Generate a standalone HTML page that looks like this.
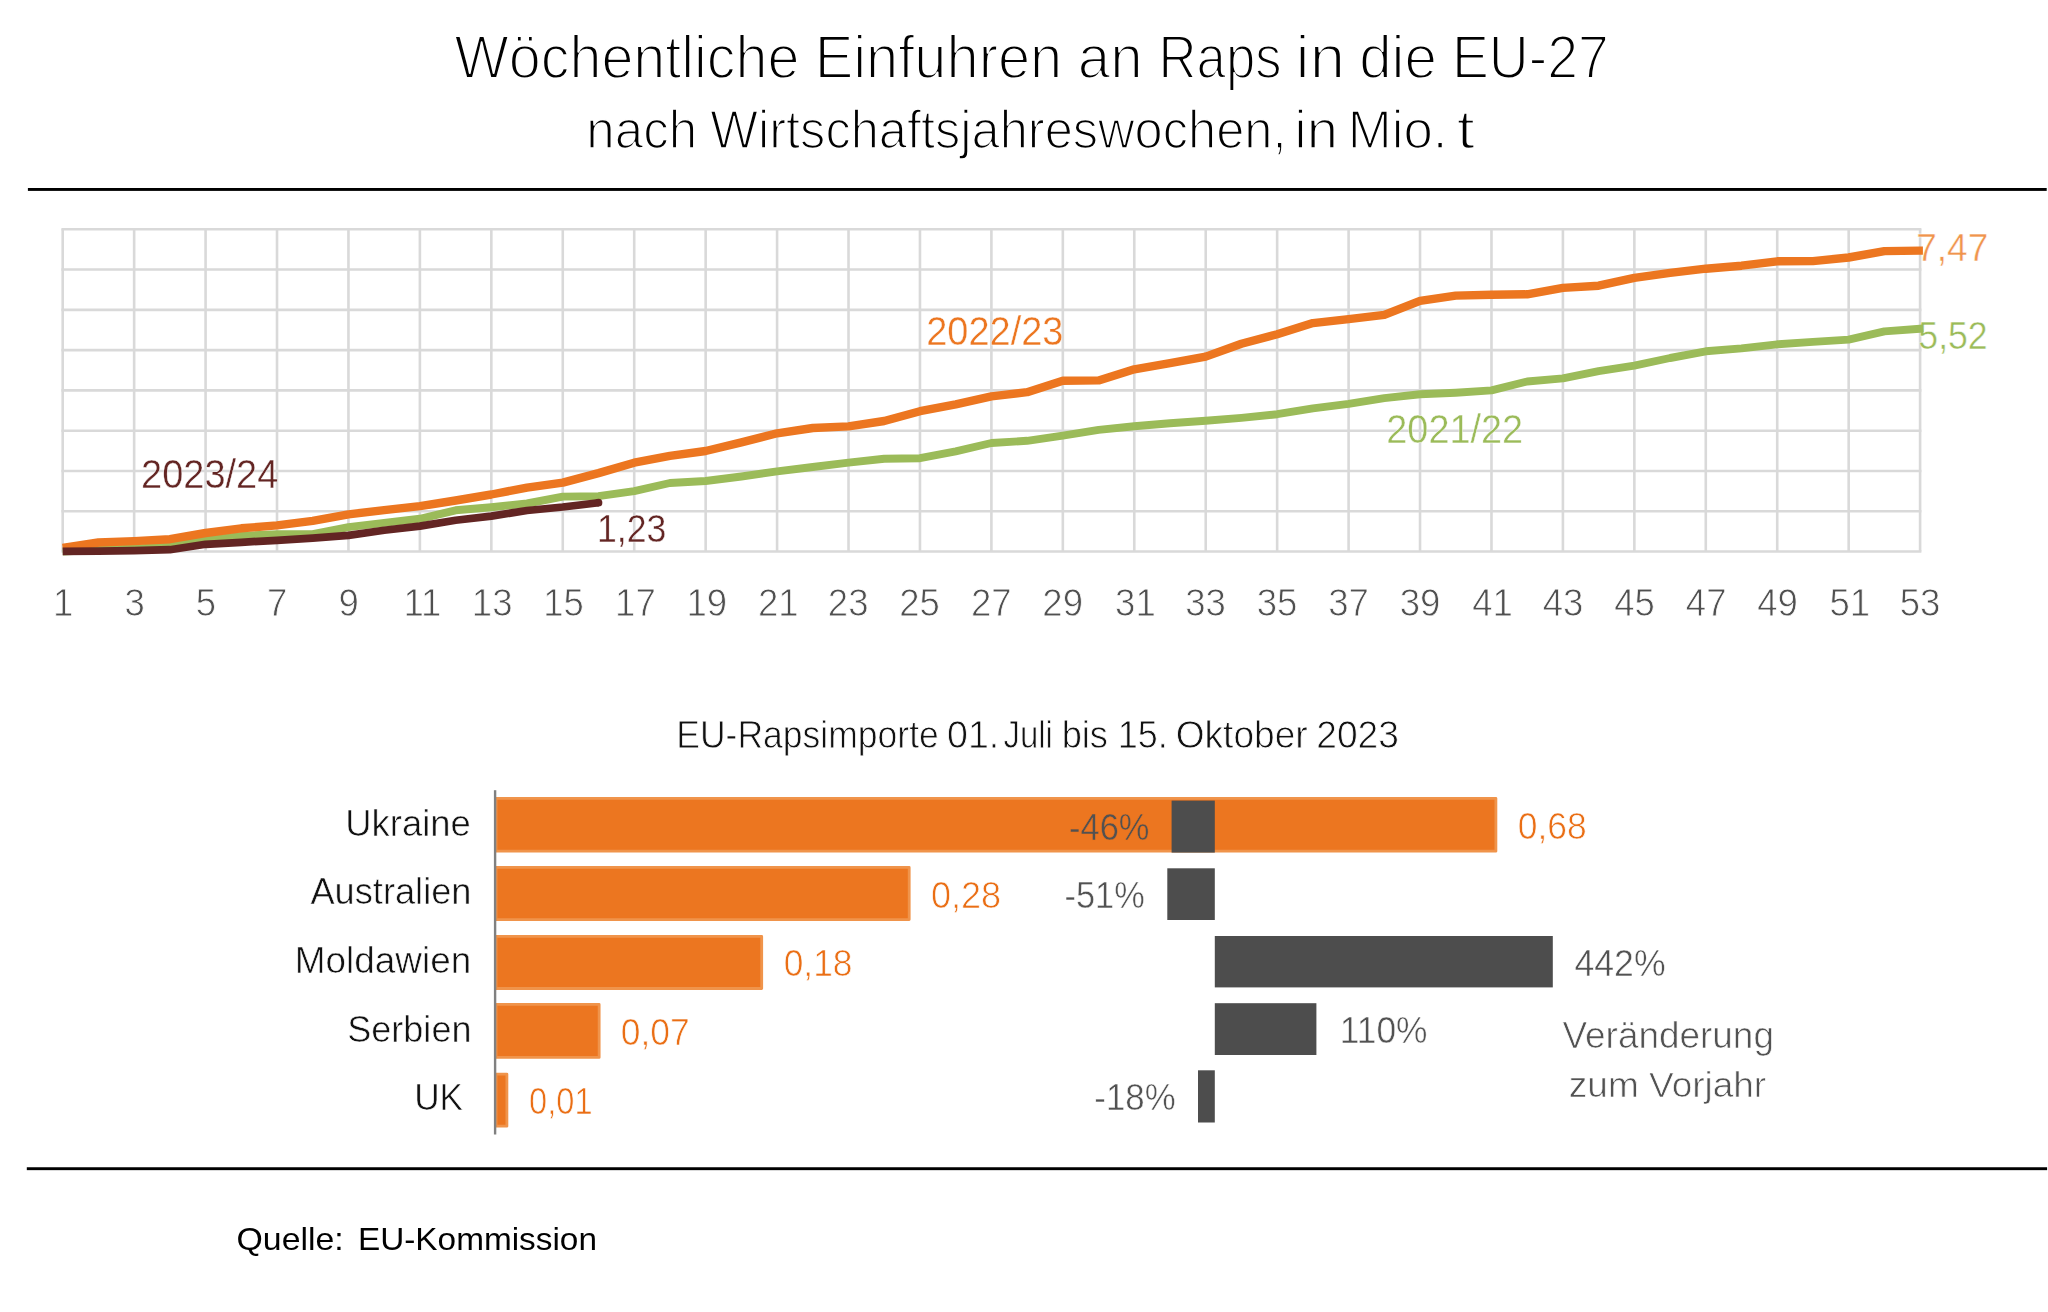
<!DOCTYPE html>
<html lang="de"><head><meta charset="utf-8"><title>Wöchentliche Einfuhren an Raps in die EU-27</title>
<style>html,body{margin:0;padding:0;background:#fff;}body{width:2048px;height:1312px;overflow:hidden;font-family:"Liberation Sans",sans-serif;}svg{display:block;}text{font-family:"Liberation Sans",sans-serif;}</style>
</head><body>
<svg width="2048" height="1312" viewBox="0 0 2048 1312">
<rect width="2048" height="1312" fill="#ffffff"/>
<rect x="27.9" y="188.0" width="2018.8" height="2.9" fill="#000"/>
<rect x="26.8" y="1167.25" width="2020.3" height="2.9" fill="#000"/>
<g stroke="#d9d9d9" stroke-width="2.6" fill="none">
<line x1="62.70" y1="229.3" x2="62.70" y2="551.5"/>
<line x1="134.14" y1="229.3" x2="134.14" y2="551.5"/>
<line x1="205.58" y1="229.3" x2="205.58" y2="551.5"/>
<line x1="277.02" y1="229.3" x2="277.02" y2="551.5"/>
<line x1="348.45" y1="229.3" x2="348.45" y2="551.5"/>
<line x1="419.89" y1="229.3" x2="419.89" y2="551.5"/>
<line x1="491.33" y1="229.3" x2="491.33" y2="551.5"/>
<line x1="562.77" y1="229.3" x2="562.77" y2="551.5"/>
<line x1="634.21" y1="229.3" x2="634.21" y2="551.5"/>
<line x1="705.65" y1="229.3" x2="705.65" y2="551.5"/>
<line x1="777.08" y1="229.3" x2="777.08" y2="551.5"/>
<line x1="848.52" y1="229.3" x2="848.52" y2="551.5"/>
<line x1="919.96" y1="229.3" x2="919.96" y2="551.5"/>
<line x1="991.40" y1="229.3" x2="991.40" y2="551.5"/>
<line x1="1062.84" y1="229.3" x2="1062.84" y2="551.5"/>
<line x1="1134.28" y1="229.3" x2="1134.28" y2="551.5"/>
<line x1="1205.72" y1="229.3" x2="1205.72" y2="551.5"/>
<line x1="1277.15" y1="229.3" x2="1277.15" y2="551.5"/>
<line x1="1348.59" y1="229.3" x2="1348.59" y2="551.5"/>
<line x1="1420.03" y1="229.3" x2="1420.03" y2="551.5"/>
<line x1="1491.47" y1="229.3" x2="1491.47" y2="551.5"/>
<line x1="1562.91" y1="229.3" x2="1562.91" y2="551.5"/>
<line x1="1634.35" y1="229.3" x2="1634.35" y2="551.5"/>
<line x1="1705.78" y1="229.3" x2="1705.78" y2="551.5"/>
<line x1="1777.22" y1="229.3" x2="1777.22" y2="551.5"/>
<line x1="1848.66" y1="229.3" x2="1848.66" y2="551.5"/>
<line x1="1920.10" y1="229.3" x2="1920.10" y2="551.5"/>
<line x1="61.400000000000006" y1="229.30" x2="1921.3999999999999" y2="229.30"/>
<line x1="61.400000000000006" y1="269.57" x2="1921.3999999999999" y2="269.57"/>
<line x1="61.400000000000006" y1="309.85" x2="1921.3999999999999" y2="309.85"/>
<line x1="61.400000000000006" y1="350.12" x2="1921.3999999999999" y2="350.12"/>
<line x1="61.400000000000006" y1="390.40" x2="1921.3999999999999" y2="390.40"/>
<line x1="61.400000000000006" y1="430.68" x2="1921.3999999999999" y2="430.68"/>
<line x1="61.400000000000006" y1="470.95" x2="1921.3999999999999" y2="470.95"/>
<line x1="61.400000000000006" y1="511.23" x2="1921.3999999999999" y2="511.23"/>
<line x1="61.400000000000006" y1="551.50" x2="1921.3999999999999" y2="551.50"/>
</g>
<g opacity="0.999">
<text id="v747" transform="translate(1916.20,260.55) scale(0.9467,1)" font-size="39.17" fill="#f0944d" stroke="#fff" stroke-width="0.50" stroke-linejoin="round">7,47</text>
<text id="v552" transform="translate(1918.32,349.45) scale(0.9101,1)" font-size="39.17" fill="#9bbb59" stroke="#fff" stroke-width="0.50" stroke-linejoin="round">5,52</text>
</g>
<polyline points="62.7,551.5 98.4,549.8 134.1,548.6 169.9,546.4 205.6,540.5 241.3,535.8 277.0,534.1 312.7,534.1 348.5,527.2 384.2,522.8 419.9,518.8 455.6,510.3 491.3,507.2 527.0,503.5 562.8,496.6 598.5,496.2 634.2,491.1 669.9,483.0 705.6,481.0 741.4,476.5 777.1,471.4 812.8,467.0 848.5,462.7 884.2,458.8 920.0,458.2 955.7,451.3 991.4,443.0 1027.1,440.8 1062.8,435.6 1098.6,429.9 1134.3,426.3 1170.0,423.3 1205.7,420.8 1241.4,417.9 1277.2,414.2 1312.9,408.3 1348.6,403.9 1384.3,398.1 1420.0,394.3 1455.7,392.7 1491.5,390.4 1527.2,381.5 1562.9,378.4 1598.6,371.1 1634.3,365.6 1670.1,358.0 1705.8,351.3 1741.5,348.4 1777.2,344.3 1812.9,341.9 1848.7,339.6 1884.4,331.4 1920.1,328.8 1923.3,328.5" fill="none" stroke="#9bbb59" stroke-width="7.9" stroke-linejoin="round" stroke-linecap="butt"/>
<polyline points="62.7,548.0 98.4,542.5 134.1,541.1 169.9,539.2 205.6,533.0 241.3,528.3 277.0,525.4 312.7,520.8 348.5,514.3 384.2,510.2 419.9,506.2 455.6,500.5 491.3,494.5 527.0,487.6 562.8,482.6 598.5,473.1 634.2,462.7 669.9,455.9 705.6,451.0 741.4,442.3 777.1,433.3 812.8,428.0 848.5,426.4 884.2,421.0 920.0,411.2 955.7,404.3 991.4,396.4 1027.1,392.2 1062.8,380.7 1098.6,380.4 1134.3,369.3 1170.0,363.2 1205.7,356.6 1241.4,343.8 1277.2,334.2 1312.9,323.1 1348.6,319.1 1384.3,314.8 1420.0,300.9 1455.7,295.6 1491.5,294.8 1527.2,294.3 1562.9,287.9 1598.6,285.7 1634.3,277.8 1670.1,272.9 1705.8,268.7 1741.5,265.7 1777.2,261.3 1812.9,261.1 1848.7,257.5 1884.4,251.1 1920.1,250.6 1922.9,250.6" fill="none" stroke="#ec7620" stroke-width="8.4" stroke-linejoin="round" stroke-linecap="butt"/>
<polyline points="62.7,551.4 98.4,551.2 134.1,550.6 169.9,549.7 205.6,544.3 241.3,542.3 277.0,540.3 312.7,538.2 348.5,535.4 384.2,530.3 419.9,526.1 455.6,520.2 491.3,516.1 527.0,510.5 562.8,507.0 598.5,502.7" fill="none" stroke="#632523" stroke-width="7.7" stroke-linejoin="round" stroke-linecap="butt"/>
<circle cx="598.5" cy="502.7" r="3.85" fill="#632523"/>
<rect x="496.0" y="798.30" width="999.90" height="52.90" fill="#ec7620" stroke="#f0944b" stroke-width="2.8" stroke-linejoin="round"/>
<rect x="496.0" y="867.40" width="413.20" height="52.20" fill="#ec7620" stroke="#f0944b" stroke-width="2.8" stroke-linejoin="round"/>
<rect x="496.0" y="936.40" width="265.70" height="52.10" fill="#ec7620" stroke="#f0944b" stroke-width="2.8" stroke-linejoin="round"/>
<rect x="496.0" y="1004.40" width="103.15" height="53.00" fill="#ec7620" stroke="#f0944b" stroke-width="2.8" stroke-linejoin="round"/>
<rect x="496.0" y="1074.10" width="10.90" height="52.10" fill="#ec7620" stroke="#f0944b" stroke-width="2.8" stroke-linejoin="round"/>
<rect x="1171.6" y="800.6" width="43.2" height="52.0" fill="#4d4d4d"/>
<rect x="1167.3" y="868.3" width="47.5" height="51.7" fill="#4d4d4d"/>
<rect x="1214.8" y="936" width="338.0" height="51.4" fill="#4d4d4d"/>
<rect x="1214.8" y="1003.2" width="101.6" height="51.8" fill="#4d4d4d"/>
<rect x="1198" y="1070.3" width="16.8" height="52.2" fill="#4d4d4d"/>
<rect x="493.9" y="790.2" width="2.4" height="344.3" fill="#808080"/>
<g opacity="0.999">
<text id="x1" transform="translate(53.04,616.30) scale(0.936,1)" font-size="39.02" fill="#505050" stroke="#fff" stroke-width="0.8" stroke-linejoin="round">1</text>
<text id="x3" transform="translate(124.39,616.30) scale(0.936,1)" font-size="39.02" fill="#505050" stroke="#fff" stroke-width="0.8" stroke-linejoin="round">3</text>
<text id="x5" transform="translate(195.83,616.30) scale(0.936,1)" font-size="39.02" fill="#505050" stroke="#fff" stroke-width="0.8" stroke-linejoin="round">5</text>
<text id="x7" transform="translate(267.09,616.30) scale(0.936,1)" font-size="39.02" fill="#505050" stroke="#fff" stroke-width="0.8" stroke-linejoin="round">7</text>
<text id="x9" transform="translate(338.53,616.30) scale(0.936,1)" font-size="39.02" fill="#505050" stroke="#fff" stroke-width="0.8" stroke-linejoin="round">9</text>
<text id="x11" transform="translate(403.44,616.30) scale(0.936,1)" font-size="39.02" fill="#505050" stroke="#fff" stroke-width="0.8" stroke-linejoin="round">11</text>
<text id="x13" transform="translate(471.85,616.30) scale(0.936,1)" font-size="39.02" fill="#505050" stroke="#fff" stroke-width="0.8" stroke-linejoin="round">13</text>
<text id="x15" transform="translate(543.29,616.30) scale(0.936,1)" font-size="39.02" fill="#505050" stroke="#fff" stroke-width="0.8" stroke-linejoin="round">15</text>
<text id="x17" transform="translate(615.09,616.30) scale(0.936,1)" font-size="39.02" fill="#505050" stroke="#fff" stroke-width="0.8" stroke-linejoin="round">17</text>
<text id="x19" transform="translate(686.53,616.30) scale(0.936,1)" font-size="39.02" fill="#505050" stroke="#fff" stroke-width="0.8" stroke-linejoin="round">19</text>
<text id="x21" transform="translate(757.92,616.30) scale(0.936,1)" font-size="39.02" fill="#505050" stroke="#fff" stroke-width="0.8" stroke-linejoin="round">21</text>
<text id="x23" transform="translate(827.87,616.30) scale(0.936,1)" font-size="39.02" fill="#505050" stroke="#fff" stroke-width="0.8" stroke-linejoin="round">23</text>
<text id="x25" transform="translate(899.31,616.30) scale(0.936,1)" font-size="39.02" fill="#505050" stroke="#fff" stroke-width="0.8" stroke-linejoin="round">25</text>
<text id="x27" transform="translate(970.93,616.30) scale(0.936,1)" font-size="39.02" fill="#505050" stroke="#fff" stroke-width="0.8" stroke-linejoin="round">27</text>
<text id="x29" transform="translate(1042.37,616.30) scale(0.936,1)" font-size="39.02" fill="#505050" stroke="#fff" stroke-width="0.8" stroke-linejoin="round">29</text>
<text id="x31" transform="translate(1115.11,616.30) scale(0.936,1)" font-size="39.02" fill="#505050" stroke="#fff" stroke-width="0.8" stroke-linejoin="round">31</text>
<text id="x33" transform="translate(1185.24,616.30) scale(0.936,1)" font-size="39.02" fill="#505050" stroke="#fff" stroke-width="0.8" stroke-linejoin="round">33</text>
<text id="x35" transform="translate(1256.68,616.30) scale(0.936,1)" font-size="39.02" fill="#505050" stroke="#fff" stroke-width="0.8" stroke-linejoin="round">35</text>
<text id="x37" transform="translate(1328.30,616.30) scale(0.936,1)" font-size="39.02" fill="#505050" stroke="#fff" stroke-width="0.8" stroke-linejoin="round">37</text>
<text id="x39" transform="translate(1399.74,616.30) scale(0.936,1)" font-size="39.02" fill="#505050" stroke="#fff" stroke-width="0.8" stroke-linejoin="round">39</text>
<text id="x41" transform="translate(1472.30,616.30) scale(0.936,1)" font-size="39.02" fill="#505050" stroke="#fff" stroke-width="0.8" stroke-linejoin="round">41</text>
<text id="x43" transform="translate(1542.80,616.30) scale(0.936,1)" font-size="39.02" fill="#505050" stroke="#fff" stroke-width="0.8" stroke-linejoin="round">43</text>
<text id="x45" transform="translate(1614.24,616.30) scale(0.936,1)" font-size="39.02" fill="#505050" stroke="#fff" stroke-width="0.8" stroke-linejoin="round">45</text>
<text id="x47" transform="translate(1685.86,616.30) scale(0.936,1)" font-size="39.02" fill="#505050" stroke="#fff" stroke-width="0.8" stroke-linejoin="round">47</text>
<text id="x49" transform="translate(1757.30,616.30) scale(0.936,1)" font-size="39.02" fill="#505050" stroke="#fff" stroke-width="0.8" stroke-linejoin="round">49</text>
<text id="x51" transform="translate(1829.49,616.30) scale(0.936,1)" font-size="39.02" fill="#505050" stroke="#fff" stroke-width="0.8" stroke-linejoin="round">51</text>
<text id="x53" transform="translate(1899.63,616.30) scale(0.936,1)" font-size="39.02" fill="#505050" stroke="#fff" stroke-width="0.8" stroke-linejoin="round">53</text>
<text id="l2223" transform="translate(926.20,344.60) scale(0.9557,1)" font-size="39.74" fill="#ec7620" stroke="#fff" stroke-width="0.40" stroke-linejoin="round">2022/23</text>
<text id="l2122" transform="translate(1386.31,442.70) scale(0.9493,1)" font-size="39.89" fill="#9bbb59" stroke="#fff" stroke-width="0.40" stroke-linejoin="round">2021/22</text>
<text id="l2324" transform="translate(141.10,487.80) scale(0.9449,1)" font-size="40.17" fill="#632523" stroke="#fff" stroke-width="0.40" stroke-linejoin="round">2023/24</text>
<text id="v123" transform="translate(596.95,541.50) scale(0.9104,1)" font-size="39.17" fill="#632523" stroke="#fff" stroke-width="0.40" stroke-linejoin="round">1,23</text>
<text id="c0" transform="translate(345.29,835.60) scale(1.0011,1)" font-size="36.38" fill="#111" stroke="#fff" stroke-width="0.60" stroke-linejoin="round">Ukraine</text>
<text id="c1" transform="translate(310.40,904.40) scale(0.9843,1)" font-size="36.81" fill="#111" stroke="#fff" stroke-width="0.60" stroke-linejoin="round">Australien</text>
<text id="c2" transform="translate(294.85,973.00) scale(0.9797,1)" font-size="37.68" fill="#111" stroke="#fff" stroke-width="0.60" stroke-linejoin="round">Moldawien</text>
<text id="c3" transform="translate(347.20,1041.50) scale(0.9683,1)" font-size="37.25" fill="#111" stroke="#fff" stroke-width="0.60" stroke-linejoin="round">Serbien</text>
<text id="c4" transform="translate(414.18,1109.80) scale(0.9561,1)" font-size="36.81" fill="#111" stroke="#fff" stroke-width="0.60" stroke-linejoin="round">UK</text>
<text id="v0" transform="translate(1517.73,839.15) scale(0.9699,1)" font-size="36.59" fill="#ea6e14" stroke="#fff" stroke-width="0.70" stroke-linejoin="round">0,68</text>
<text id="v1" transform="translate(930.91,908.35) scale(0.9939,1)" font-size="36.30" fill="#ea6e14" stroke="#fff" stroke-width="0.70" stroke-linejoin="round">0,28</text>
<text id="v2" transform="translate(783.63,976.25) scale(0.9609,1)" font-size="36.87" fill="#ea6e14" stroke="#fff" stroke-width="0.70" stroke-linejoin="round">0,18</text>
<text id="v3" transform="translate(620.73,1045.05) scale(0.9462,1)" font-size="37.45" fill="#ea6e14" stroke="#fff" stroke-width="0.70" stroke-linejoin="round">0,07</text>
<text id="v4" transform="translate(529.04,1113.55) scale(0.9026,1)" font-size="36.15" fill="#ea6e14" stroke="#fff" stroke-width="0.70" stroke-linejoin="round">0,01</text>
<text id="p0" transform="translate(1069.07,840.45) scale(0.9496,1)" font-size="36.30" fill="#525252" stroke="#ec7620" stroke-width="0.50" stroke-linejoin="round">-46%</text>
<text id="p1" transform="translate(1064.58,907.65) scale(0.9276,1)" font-size="37.02" fill="#525252" stroke="#fff" stroke-width="0.50" stroke-linejoin="round">-51%</text>
<text id="p2" transform="translate(1574.54,976.15) scale(0.9693,1)" font-size="36.73" fill="#525252" stroke="#fff" stroke-width="0.50" stroke-linejoin="round">442%</text>
<text id="p3" transform="translate(1339.82,1042.95) scale(0.9541,1)" font-size="37.02" fill="#525252" stroke="#fff" stroke-width="0.50" stroke-linejoin="round">110%</text>
<text id="p4" transform="translate(1094.36,1109.65) scale(0.9481,1)" font-size="36.73" fill="#525252" stroke="#fff" stroke-width="0.50" stroke-linejoin="round">-18%</text>
<text id="vj1" transform="translate(1562.48,1048.45) scale(0.9803,1)" font-size="37.68" fill="#525252" stroke="#fff" stroke-width="0.70" stroke-linejoin="round">Veränderung</text>
<text id="vj2" transform="translate(1568.87,1097.05) scale(1.0333,1)" font-size="35.80" fill="#525252" stroke="#fff" stroke-width="0.70" stroke-linejoin="round">zum Vorjahr</text>
<text id="s1" transform="translate(236.51,1249.80) scale(1.0658,1)" font-size="31.74" fill="#000">Quelle:</text>
<text id="s2" transform="translate(357.93,1249.80) scale(1.0507,1)" font-size="31.74" fill="#000">EU-Kommission</text>
<text id="t1_0" transform="translate(454.53,78.20) scale(0.9307,1)" font-size="61.74" fill="#000" stroke="#fff" stroke-width="2.00" stroke-linejoin="round">Wöchentliche</text>
<text id="t1_1" transform="translate(814.67,78.20) scale(0.9370,1)" font-size="61.74" fill="#000" stroke="#fff" stroke-width="2.00" stroke-linejoin="round">Einfuhren</text>
<text id="t1_2" transform="translate(1077.87,78.20) scale(0.9430,1)" font-size="61.74" fill="#000" stroke="#fff" stroke-width="2.00" stroke-linejoin="round">an</text>
<text id="t1_3" transform="translate(1158.59,78.20) scale(0.8529,1)" font-size="61.74" fill="#000" stroke="#fff" stroke-width="2.00" stroke-linejoin="round">Raps</text>
<text id="t1_4" transform="translate(1295.56,78.20) scale(1.0275,1)" font-size="61.74" fill="#000" stroke="#fff" stroke-width="2.00" stroke-linejoin="round">in</text>
<text id="t1_5" transform="translate(1359.17,78.20) scale(0.9446,1)" font-size="61.74" fill="#000" stroke="#fff" stroke-width="2.00" stroke-linejoin="round">die</text>
<text id="t1_6" transform="translate(1451.97,78.20) scale(0.8962,1)" font-size="61.74" fill="#000" stroke="#fff" stroke-width="2.00" stroke-linejoin="round">EU-27</text>
<text id="t2_0" transform="translate(586.37,147.85) scale(0.9450,1)" font-size="54.06" fill="#000" stroke="#fff" stroke-width="1.70" stroke-linejoin="round">nach</text>
<text id="t2_1" transform="translate(710.24,147.85) scale(0.9357,1)" font-size="54.06" fill="#000" stroke="#fff" stroke-width="1.70" stroke-linejoin="round">Wirtschaftsjahreswochen,</text>
<text id="t2_2" transform="translate(1294.32,147.85) scale(1.0377,1)" font-size="54.06" fill="#000" stroke="#fff" stroke-width="1.70" stroke-linejoin="round">in</text>
<text id="t2_3" transform="translate(1347.73,147.85) scale(0.9766,1)" font-size="54.06" fill="#000" stroke="#fff" stroke-width="1.70" stroke-linejoin="round">Mio.</text>
<text id="t2_4" transform="translate(1456.85,147.85) scale(1.2061,1)" font-size="54.06" fill="#000" stroke="#fff" stroke-width="1.70" stroke-linejoin="round">t</text>
<text id="bt_0" transform="translate(676.26,748.20) scale(0.9286,1)" font-size="38.26" fill="#111" stroke="#fff" stroke-width="0.80" stroke-linejoin="round">EU-Rapsimporte</text>
<text id="bt_1" transform="translate(947.10,748.20) scale(0.9812,1)" font-size="38.26" fill="#111" stroke="#fff" stroke-width="0.80" stroke-linejoin="round">01.</text>
<text id="bt_2" transform="translate(1003.44,748.20) scale(0.8619,1)" font-size="38.26" fill="#111" stroke="#fff" stroke-width="0.80" stroke-linejoin="round">Juli</text>
<text id="bt_3" transform="translate(1061.66,748.20) scale(0.9472,1)" font-size="38.26" fill="#111" stroke="#fff" stroke-width="0.80" stroke-linejoin="round">bis</text>
<text id="bt_4" transform="translate(1117.72,748.20) scale(0.9405,1)" font-size="38.26" fill="#111" stroke="#fff" stroke-width="0.80" stroke-linejoin="round">15.</text>
<text id="bt_5" transform="translate(1175.75,748.20) scale(0.9691,1)" font-size="38.26" fill="#111" stroke="#fff" stroke-width="0.80" stroke-linejoin="round">Oktober</text>
<text id="bt_6" transform="translate(1316.24,748.20) scale(0.9706,1)" font-size="38.26" fill="#111" stroke="#fff" stroke-width="0.80" stroke-linejoin="round">2023</text>
</g>
</svg>
</body></html>
